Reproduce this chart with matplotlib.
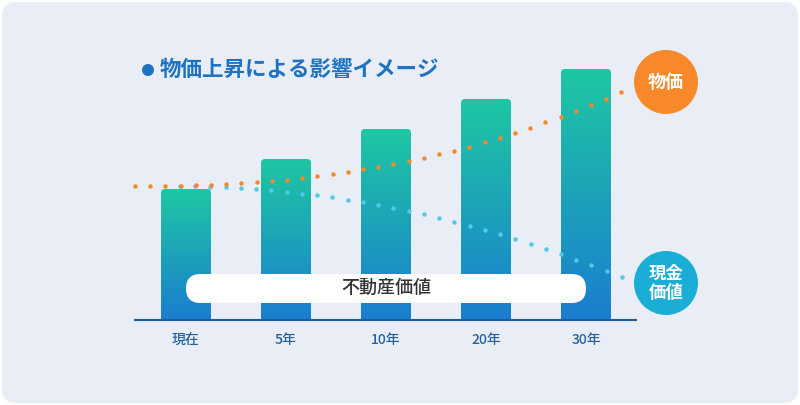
import numpy as np
import matplotlib.pyplot as plt
from matplotlib.patches import FancyBboxPatch, Circle
from matplotlib.colors import LinearSegmentedColormap

plt.rcParams["font.family"] = "Noto Sans CJK JP"

# data (pixel-ish units)
periods = ["現在", "5年", "10年", "20年", "30年"]
bar_values = [131, 161, 191, 221, 251]
price_x_start, price_step = 135, 15.2
price_y = [186, 186, 185.8, 185.5, 185.2, 184.7, 184.1, 183.3, 182.1, 181, 179.7,
           178, 176.1, 174, 171.8, 169.4, 166.9, 164, 161, 157.8, 154.2, 150.5,
           146.5, 142.2, 137.5, 132.6, 127.6, 122.3, 116.8, 111, 105, 98.6, 92]
cash_x_start, cash_step = 180, 15.24
cash_y = [186, 186, 187, 187, 188, 189, 190, 192, 194, 195, 197, 200, 202, 205, 208,
          211, 214, 218, 222, 226, 230, 234, 239, 244, 249, 254, 260, 265, 271, 277]

fig = plt.figure(figsize=(8, 4.05), dpi=100)
fig.patch.set_facecolor("white")
ax = fig.add_axes([0, 0, 1, 1])
ax.set_xlim(0, 800)
ax.set_ylim(405, 0)
ax.axis("off")

ax.add_patch(FancyBboxPatch((2, 2), 796, 401, boxstyle="round,pad=0,rounding_size=14",
                            fc="#e9edf5", ec="none"))

baseline = 320
cmap = LinearSegmentedColormap.from_list("g", ["#1ec7a2", "#1a7ed0"])
grad = np.linspace(0, 1, 256).reshape(-1, 1)
for i, v in enumerate(bar_values):
    cx = 186 + 100 * i
    top = baseline - v
    patch = FancyBboxPatch((cx - 25, top), 50, v + 10, boxstyle="round,pad=0,rounding_size=4",
                           fc="none", ec="none")
    ax.add_patch(patch)
    im = ax.imshow(grad, cmap=cmap, extent=(cx - 25, cx + 25, baseline, top),
                   aspect="auto", zorder=2)
    im.set_clip_path(patch)
    ax.text(cx, 340, periods[i], ha="center", va="center", fontsize=10,
            color="#24619f", fontweight="medium")

ax.plot([135, 636], [baseline, baseline], color="#1d5d9e", lw=1.5, zorder=3)

px = [price_x_start + price_step * i for i in range(len(price_y))]
cx_ = [cash_x_start + cash_step * i for i in range(len(cash_y))]
ax.plot(cx_, cash_y, "o", ms=3.2, color="#4fcbea", mec="none", zorder=4)
ax.plot(px, price_y, "o", ms=3.2, color="#f7892a", mec="none", zorder=4)

ax.add_patch(FancyBboxPatch((186, 274), 400, 29, boxstyle="round,pad=0,rounding_size=14.5",
                            fc="white", ec="none", zorder=5))
ax.text(386, 288, "不動産価値", ha="center", va="center", fontsize=13,
        color="#333333", fontweight="medium", zorder=6)

ax.add_patch(Circle((666, 82), 32, fc="#f7892a", ec="none"))
ax.text(666, 82, "物価", ha="center", va="center", fontsize=13, color="white",
        fontweight="bold")
ax.add_patch(Circle((666, 283), 32, fc="#1aaed6", ec="none"))
ax.text(666, 283, "現金\n価値", ha="center", va="center", fontsize=12.5, color="white",
        fontweight="bold", linespacing=1.1)

ax.add_patch(Circle((148, 70), 6, fc="#1e72c4", ec="none"))
ax.text(160, 69, "物価上昇による影響イメージ", ha="left", va="center", fontsize=15.5,
        color="#1e72c4", fontweight="bold")

fig.savefig("out.png", dpi=100)
